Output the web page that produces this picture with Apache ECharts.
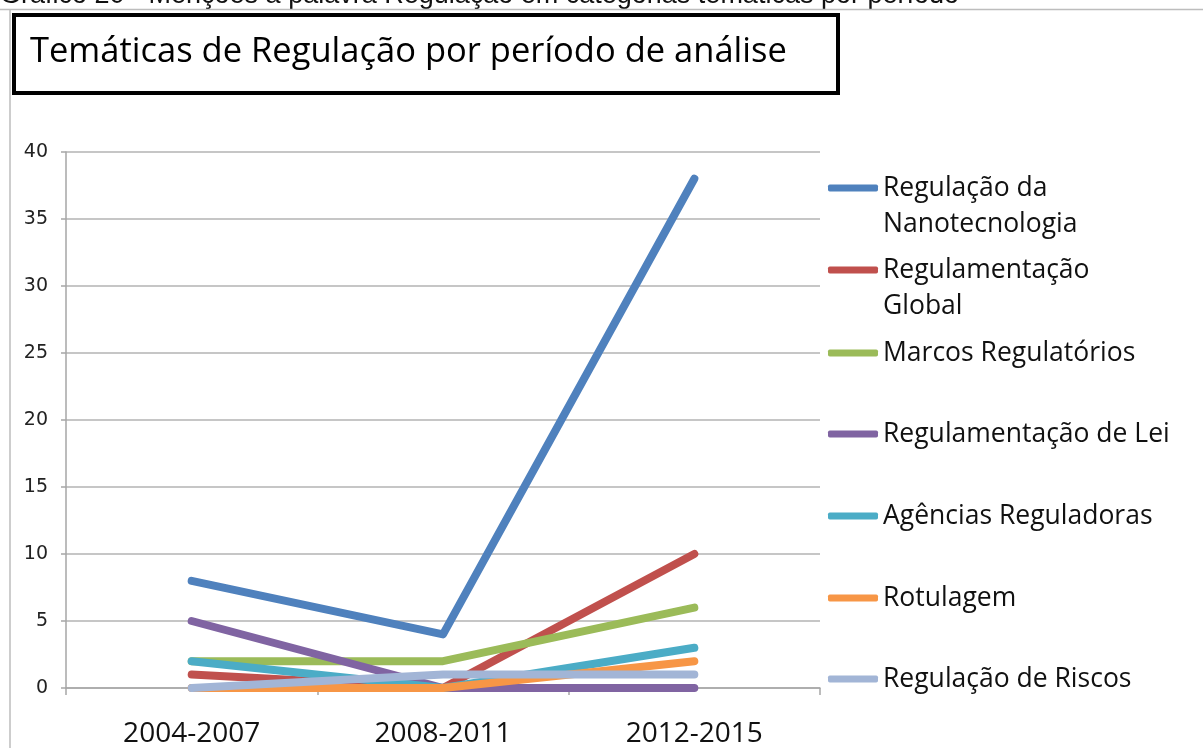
<!DOCTYPE html>
<html>

<head>
  <meta charset="utf-8">
  <title>Temáticas de Regulação por período de análise</title>
  <script type="text/javascript" src="https://cdn.jsdelivr.net/npm/echarts@6/dist/echarts.min.js"></script>
  <style>
    html,body {
      margin: 0;
      padding: 0;
      background: #fff;
    }
  </style>
</head>

<body>
  <div id="main" style="width: 1203px;height:748px;"></div>
  <script>
    // dados
    var periodos = ['2004-2007', '2008-2011', '2012-2015'];
    var nomes = ['Regulação da Nanotecnologia', 'Regulamentação Global', 'Marcos Regulatórios',
      'Regulamentação de Lei', 'Agências Reguladoras', 'Rotulagem', 'Regulação de Riscos'];
    var nanotecnologia = [8, 4, 38];
    var global = [1, 0, 10];
    var marcos = [2, 2, 6];
    var lei = [5, 0, 0];
    var agencias = [2, 0, 3];
    var rotulagem = [0, 0, 2];
    var riscos = [0, 1, 1];
    var yTicks = [0, 5, 10, 15, 20, 25, 30, 35, 40];

    var valores = [nanotecnologia, global, marcos, lei, agencias, rotulagem, riscos];
    var cores = ['#4F81BD', '#C0504D', '#9BBB59', '#8064A2', '#4BACC6', '#F79646', '#A2B5D6'];
    // legenda: nomes com quebra de linha (linha vazia em cima p/ alinhar o ícone com a 1a linha)
    var rotulos = {
      'Regulação da Nanotecnologia': ' \nRegulação da\nNanotecnologia',
      'Regulamentação Global': ' \nRegulamentação\nGlobal'
    };
    var centrosLegenda = [188, 270, 353, 434, 516, 598, 679];

    var chart = echarts.init(document.getElementById('main'));

    var series = [];
    var legends = [];
    for (var i = 0; i < nomes.length; i++) {
      series.push({
        name: nomes[i],
        type: 'line',
        data: valores[i],
        showSymbol: false,
        symbol: 'none',
        color: cores[i],
        lineStyle: { width: 8, cap: 'round', join: 'round' },
        animation: false
      });
      var duasLinhas = !!rotulos[nomes[i]];
      legends.push({
        orient: 'vertical',
        left: 828,
        top: centrosLegenda[i] - (duasLinhas ? 54 : 18),
        padding: 0,
        itemWidth: 50,
        itemHeight: 7,
        icon: 'roundRect',
        selectedMode: false,
        data: [nomes[i]],
        formatter: function (n) { return rotulos[n] || n; },
        textStyle: {
          fontFamily: 'Open Sans',
          fontSize: 26.5,
          lineHeight: 36,
          color: '#111'
        }
      });
    }

    var option = {
      backgroundColor: '#fff',
      animation: false,
      grid: { left: 66, right: 383, top: 152, bottom: 59 },
      legend: legends,
      xAxis: {
        type: 'category',
        data: periodos,
        boundaryGap: true,
        axisLine: { lineStyle: { color: '#a6a6a6', width: 1.5 } },
        axisTick: { show: true, length: 7, lineStyle: { color: '#a6a6a6', width: 1.5 } },
        axisLabel: { fontFamily: 'Open Sans', fontSize: 28, color: '#111', margin: 32 }
      },
      yAxis: {
        type: 'value',
        min: yTicks[0],
        max: yTicks[yTicks.length - 1],
        interval: 5,
        axisLine: { show: true, lineStyle: { color: '#a6a6a6', width: 1.5 } },
        axisTick: { show: true, length: 5, lineStyle: { color: '#a6a6a6', width: 1.5 } },
        axisLabel: { fontFamily: 'DejaVu Sans', fontSize: 19, color: '#222', margin: 18 },
        splitLine: { lineStyle: { color: '#b3b3b3', width: 1.5 } }
      },
      graphic: [
        // legenda da figura, cortada no topo
        {
          type: 'text', left: 0, top: -18, silent: true,
          style: { text: 'Gráfico 20 - Menções à palavra Regulação em categorias temáticas por período',
            font: '27px "Liberation Sans"', fill: '#111' }
        },
        // moldura do gráfico
        { type: 'line', silent: true, shape: { x1: 0, y1: 9.5, x2: 1203, y2: 9.5 }, style: { stroke: '#bdbdbd', lineWidth: 1.5 } },
        { type: 'line', silent: true, shape: { x1: 10, y1: 9.5, x2: 10, y2: 748 }, style: { stroke: '#bdbdbd', lineWidth: 1.5 } },
        // caixa do título
        {
          type: 'rect', silent: true,
          shape: { x: 14, y: 15, width: 824, height: 78 },
          style: { fill: '#fff', stroke: '#000', lineWidth: 4 }
        },
        {
          type: 'text', left: 30, top: 35, silent: true,
          style: { text: 'Temáticas de Regulação por período de análise',
            font: '34.5px "Open Sans"', fill: '#000' }
        }
      ],
      series: series
    };
    chart.setOption(option);
  </script>
</body>

</html>
